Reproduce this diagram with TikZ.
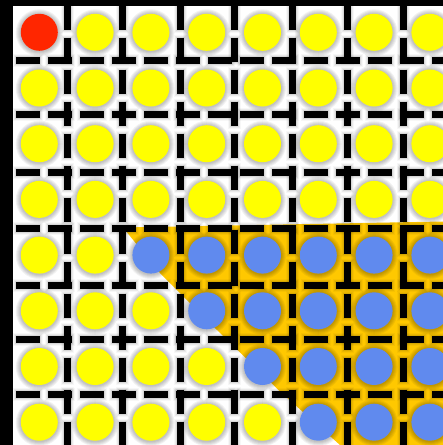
\documentclass[tikz,border=0pt]{standalone}
\definecolor{orangebg}{RGB}{255,200,0}
\definecolor{ballyellow}{RGB}{255,255,0}
\definecolor{ballred}{RGB}{255,38,0}
\definecolor{ballblue}{RGB}{96,138,238}
\tikzset{
  hline/.style={line width=7pt, black, dash pattern=on 23.5pt off 8.5pt},
  hsha/.style={line width=9pt, black, opacity=0.08, dash pattern=on 25.5pt off 6.5pt},
  hshb/.style={line width=11pt, black, opacity=0.05, dash pattern=on 27.5pt off 4.5pt},
  hshc/.style={line width=13pt, black, opacity=0.03, dash pattern=on 29.5pt off 2.5pt},
  vline/.style={line width=7pt, black, dash pattern=on 24.2pt off 7.8pt},
  vsha/.style={line width=9pt, black, opacity=0.08, dash pattern=on 26.2pt off 5.8pt},
  vshb/.style={line width=11pt, black, opacity=0.05, dash pattern=on 28.2pt off 3.8pt},
  vshc/.style={line width=13pt, black, opacity=0.03, dash pattern=on 30.2pt off 1.8pt},
  ball/.style={circle, minimum size=37pt, inner sep=0pt, draw=none},
  glow/.style={black, opacity=0.05},
}
\begin{document}
\begin{tikzpicture}[x=1pt,y=-1pt]
\useasboundingbox (0,0) rectangle (443,445);
\clip (0,0) rectangle (443,445);
\fill[white] (0,0) rectangle (443,445);
% highlighted region
\fill[orangebg] (123,227.5) -- (443,221.5) -- (443,445) -- (340,445)
  -- (280,391.5) -- (217,330) -- (160,273) -- cycle;
% shadows of the walls
\foreach \y in {60.5,114.7,172.5,228.5,285.3,339.5,394.7}{
  \draw[hshc] (13,\y) -- (470,\y);
  \draw[hshb] (14,\y) -- (470,\y);
  \draw[hsha] (15,\y) -- (470,\y);
}
\foreach \x in {67.7,122.3,180,234.7,292.7,347.3,403}{
  \draw[vshc] (\x,2.7) -- (\x,470);
  \draw[vshb] (\x,3.7) -- (\x,470);
  \draw[vsha] (\x,4.7) -- (\x,470);
}
% shadows of the balls
\foreach \j in {0,...,7}{
  \foreach \i in {0,...,7}{
    \pgfmathsetmacro\cx{39.3+55.8*\i}
    \pgfmathsetmacro\cy{32.3+55.7*\j}
    \foreach \r in {19.5,20.5,21.5,22.5,23.5}{
      \fill[glow] (\cx,\cy+0.5) circle (\r pt);
    }
  }
}
% walls
\foreach \y in {60.5,114.7,172.5,228.5,285.3,339.5,394.7}{
  \draw[hline] (16,\y) -- (470,\y);
}
\foreach \x in {67.7,122.3,180,234.7,292.7,347.3,403}{
  \draw[vline] (\x,5.7) -- (\x,470);
}
% balls
\foreach \j in {0,...,7}{
  \foreach \i in {0,...,7}{
    \pgfmathsetmacro\cx{39.3+55.8*\i}
    \pgfmathsetmacro\cy{32.3+55.7*\j}
    \def\col{ballyellow}
    \ifnum\j>3 \ifnum\i>\numexpr\j-3\relax \def\col{ballblue}\fi\fi
    \ifnum\i=0 \ifnum\j=0 \def\col{ballred}\fi\fi
    \node[ball, fill=\col] (b\i-\j) at (\cx,\cy) {};
  }
}
% borders
\fill[black] (0,0) rectangle (12.7,445);
\fill[black] (0,0) rectangle (443,5.7);
\end{tikzpicture}
\end{document}
